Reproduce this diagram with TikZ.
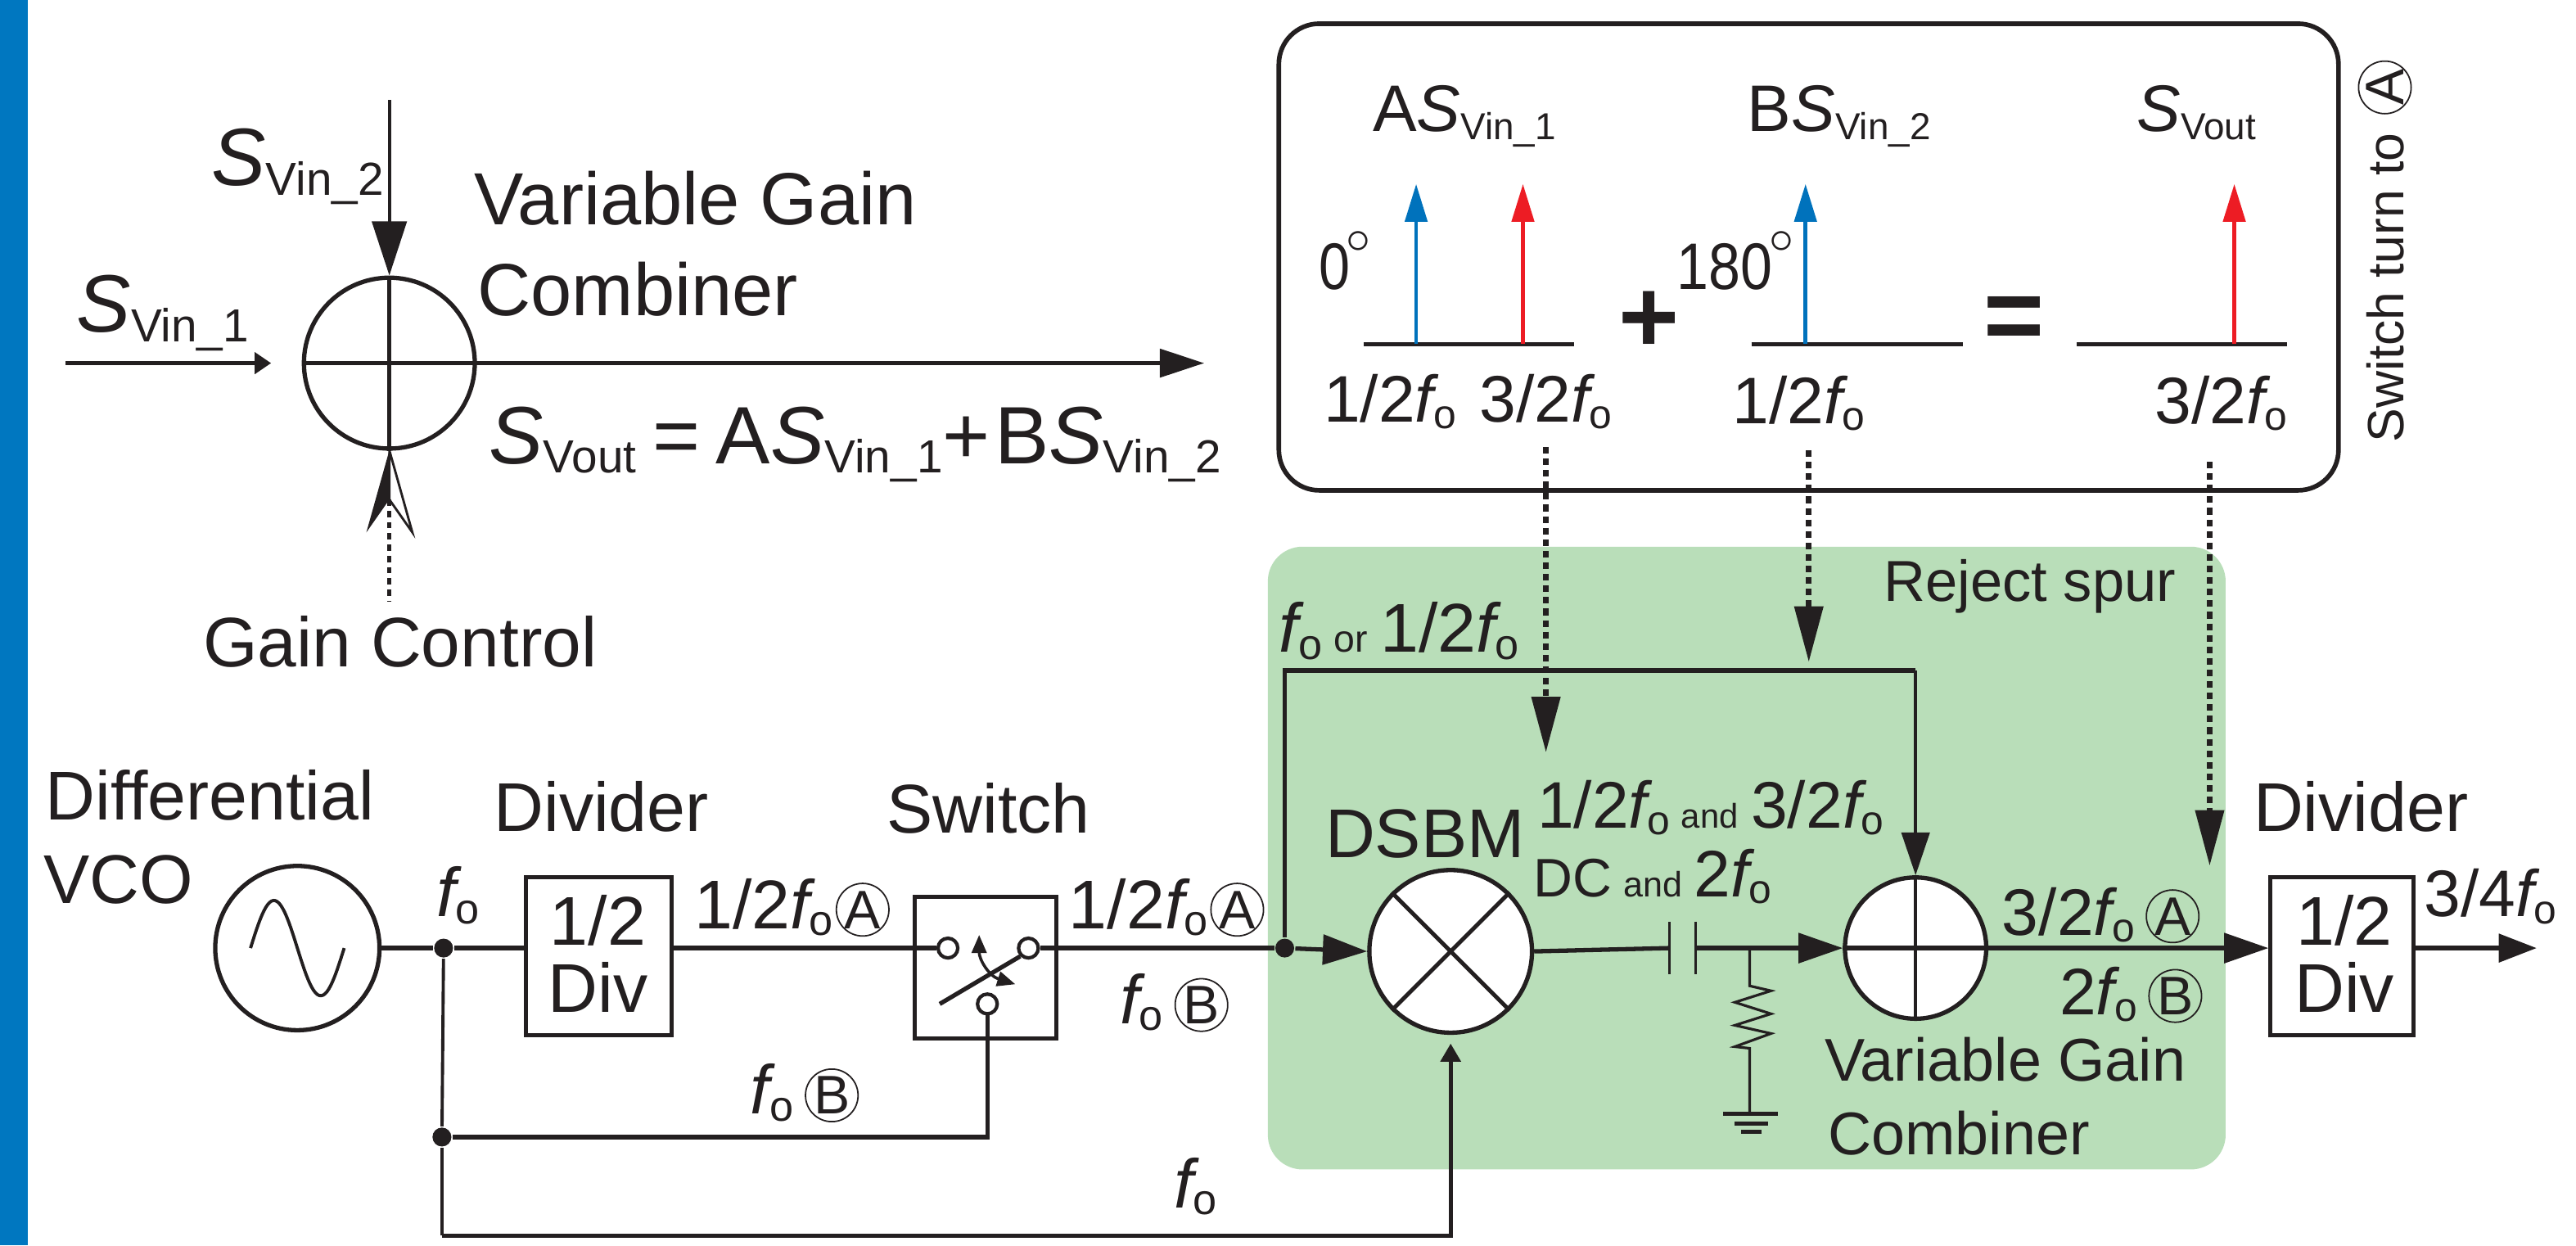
\documentclass[tikz,border=0pt]{standalone}
\usepackage{fontspec}
\usepackage{graphicx}
\setmainfont{Liberation Sans}
\usetikzlibrary{arrows.meta}
\newcommand{\sbs}[1]{\raisebox{-.12em}{\scalebox{.57}{#1}}}
\newcommand{\Sg}[1]{{\itshape S}\sbs{#1}}
\newcommand{\fo}{{\itshape f}\raisebox{-.1em}{\scalebox{.62}{o}}}
\newcommand{\cch}[1]{\tikz[baseline=(cc.base)]\node[circle,draw,line width=.25pt,inner sep=-1.5pt,minimum size=3.2mm] (cc) {\fontsize{9.4}{10}\selectfont #1};}
\newcommand{\dg}{\kern-.6pt\raisebox{2.4pt}{$^{\circ}$}}
\definecolor{barblue}{RGB}{0,119,192}
\definecolor{spurgreen}{RGB}{185,222,185}
\definecolor{toneblue}{RGB}{0,114,188}
\definecolor{tonered}{RGB}{237,28,36}
\definecolor{ink}{RGB}{35,31,32}

\begin{document}
\begin{tikzpicture}[
      ink, draw=ink,
      lbl/.style={font=\fontsize{11.95}{14}\selectfont, anchor=base west, inner sep=0pt, text=ink},
      lblbig/.style={lbl, font=\fontsize{14.1}{16}\selectfont},
      lblwide/.style={lbl, font=\fontsize{12.8}{15}\selectfont},
      lblbox/.style={lbl, font=\fontsize{11.4}{14}\selectfont},
      lblsmall/.style={lbl, font=\fontsize{10}{12}\selectfont},
      lblvg/.style={lbl, font=\fontsize{10.45}{12}\selectfont},
      sym/.style={font=\fontsize{18}{20}\selectfont\bfseries, inner sep=0pt, text=ink},
      blk/.style={draw=ink, line width=.7pt, fill=white, minimum width=#1, inner sep=0pt},
      circ/.style={circle, draw=ink, line width=.75pt, fill=white, inner sep=0pt, minimum size=#1},
      term/.style={circle, draw=ink, line width=.6pt, fill=white, inner sep=0pt, minimum size=1.2mm},
      dot/.style={circle, fill=ink, inner sep=0pt, minimum size=1.15mm},
      wire/.style={line width=.75pt, draw=ink},
      thinw/.style={line width=.45pt, draw=ink},
      sig/.style={wire, -{Stealth[inset=0pt,length=2.7mm,width=1.8mm]}},
      dsh/.style={line width=1pt, draw=ink, dash pattern=on 1.15pt off .85pt, -{Stealth[inset=0pt,length=3.4mm,width=1.7mm]}},
      tone/.style={line width=.65pt, -{Stealth[inset=0pt,length=2.3mm,width=1.35mm]}},
      axisl/.style={line width=.8pt, draw=ink}
    ]
    \useasboundingbox (0,0) rectangle (15.68,-7.58);
    \fill[barblue] (0,0) rectangle (0.17,-7.58);

    % green area and result panel
    \node[draw=none, fill=spurgreen, rounded corners=6pt, anchor=north west, minimum width=5.83cm, minimum height=3.79cm, inner sep=0pt] (spur) at (7.71,-3.32) {};
    \node[draw=ink, line width=.8pt, fill=white, rounded corners=7pt, anchor=north west, minimum width=6.45cm, minimum height=2.84cm, inner sep=0pt] (panel) at (7.77,-0.13) {};

    % upper left combiner
    \node[circ=10.4mm] (combT) at (2.37,-2.21) {};
    \draw[wire] (combT.west) -- (combT.east);
    \draw[wire] (combT.north) -- (combT.south);
    \coordinate (in1) at (0.40,-2.21);
    \coordinate (in1e) at (1.65,-2.21);
    \coordinate (in2) at (2.37,-0.61);
    \coordinate (outT) at (7.33,-2.21);
    \draw[wire, line width=.6pt, -{Stealth[inset=0pt,length=1mm,width=1.3mm]}] (in1) -- (in1e);
    \draw[sig, thinw, line width=.6pt, -{Stealth[inset=0pt,length=3.3mm,width=2.1mm]}] (in2) -- (combT.north);
    \draw[sig, -{Stealth[inset=0pt,length=2.7mm,width=1.7mm]}] (combT.east) -- (outT);
    \coordinate (gcTip) at (2.37,-2.74);
    \coordinate (gcL) at (2.23,-3.24);
    \coordinate (gcR) at (2.51,-3.24);
    \coordinate (gcN) at (2.37,-3.04);
    \coordinate (gcS) at (2.37,-3.66);
    \filldraw[draw=ink, line width=.4pt, fill=white] (gcTip) -- (gcR) -- (gcN) -- cycle;
    \fill[ink] (gcTip) -- (gcL) -- (gcN) -- cycle;
    \draw[line width=.75pt, dash pattern=on 1.1pt off .85pt] (gcN) -- (gcS);
    \node[lblbig] (sv2) at (1.28,-1.13) {\Sg{Vin\_2}};
    \node[lblbig] (sv1) at (0.46,-2.02) {\Sg{Vin\_1}};
    \node[lblwide] (vg1) at (2.88,-1.37) {Variable Gain};
    \node[lblwide] (cb1) at (2.90,-1.92) {Combiner};
    \node[lblbig] (eq1) at (2.97,-2.82) {\Sg{Vout}\kern2.8pt=\kern2.8pt A\Sg{Vin\_1}+\kern.8pt B\Sg{Vin\_2}};
    \node[lbl, font=\fontsize{12.15}{14}\selectfont] (gc) at (1.23,-4.06) {Gain Control};

    % spectra
    \node[lblbox] (sa) at (8.35,-0.80) {A\Sg{Vin\_1}};
    \node[lblbox] (sb) at (10.63,-0.80) {B\Sg{Vin\_2}};
    \node[lblbox] (so) at (13.00,-0.80) {\Sg{Vout}};
    \node[lblbox] (ph0) at (8.02,-1.76) {\scalebox{.85}[1]{0}\dg};
    \node[lblbox] (ph1) at (10.20,-1.76) {\scalebox{.87}[1]{180}\dg};
    \foreach \n/\xa/\xb in {a/8.30/9.58, b/10.66/11.95, c/12.64/13.92} {
      \coordinate (ax\n l) at (\xa,-2.095);
      \coordinate (ax\n r) at (\xb,-2.095);
      \draw[axisl] (ax\n l) -- (ax\n r);
    }
    \draw[tone, draw=toneblue, fill=toneblue] (8.62,-2.09) -- (8.62,-1.12);
    \draw[tone, draw=tonered, fill=tonered] (9.27,-2.09) -- (9.27,-1.12);
    \draw[tone, draw=toneblue, fill=toneblue] (10.99,-2.09) -- (10.99,-1.12);
    \draw[tone, draw=tonered, fill=tonered] (13.60,-2.09) -- (13.60,-1.12);
    \node[sym] (plus) at (10.04,-1.96) {+};
    \node[sym] (eql) at (12.26,-1.97) {=};
    \node[lblbox] (t1) at (8.05,-2.57) {1/2\fo};
    \node[lblbox] (t2) at (9.00,-2.57) {3/2\fo};
    \node[lblbox] (t3) at (10.54,-2.58) {1/2\fo};
    \node[lblbox] (t4) at (13.11,-2.58) {3/2\fo};
    \node[rotate=90, anchor=base west, inner sep=0pt, font=\fontsize{8.85}{10}\selectfont, text=ink] (swt) at (14.63,-2.70) {Switch turn to\kern3.2pt\cch{A}};

    % dotted links from the panel
    \coordinate (d1s) at (9.41,-2.72);
    \coordinate (d1e) at (9.41,-4.58);
    \coordinate (d2s) at (11.01,-2.74);
    \coordinate (d2e) at (11.01,-4.03);
    \coordinate (d3s) at (13.45,-2.81);
    \coordinate (d3e) at (13.45,-5.27);
    \draw[dsh] (d1s) -- (d1e);
    \draw[dsh] (d2s) -- (d2e);
    \draw[dsh] (d3s) -- (d3e);

    % main chain
    \node[circ=10mm] (vco) at (1.81,-5.77) {};
    \draw[line width=.55pt, domain=0:360, samples=50] plot ({1.525+\x/360*.57},{-5.77+.29*sin(\x)});
    \node[blk=8.9mm, minimum height=9.6mm] (divA) at (3.645,-5.82) {};
    \node[blk=8.6mm, minimum height=8.6mm] (sw) at (6.00,-5.89) {};
    \node[circ=9.9mm] (dsbm) at (8.83,-5.79) {};
    \draw[line width=.7pt] (dsbm.45) -- (dsbm.225);
    \draw[line width=.7pt] (dsbm.135) -- (dsbm.315);
    \node[circ=8.6mm] (combB) at (11.66,-5.77) {};
    \draw[wire] (combB.west) -- (combB.east);
    \draw[thinw, line width=.6pt] (combB.north) -- (combB.south);
    \node[blk=8.7mm, minimum height=9.6mm] (divB) at (14.255,-5.82) {};

    \node[term] (swa) at (5.77,-5.77) {};
    \node[term] (swb) at (6.26,-5.77) {};
    \node[term] (swc) at (6.01,-6.11) {};
    \coordinate (blade) at (5.72,-6.11);
    \draw[line width=.75pt] (blade) -- (swb.225);
    \coordinate (swu) at (5.96,-5.69);
    \coordinate (swd) at (6.18,-5.99);
    \draw[line width=.5pt, {Stealth[inset=0pt,length=1.1mm,width=.9mm]}-{Stealth[inset=0pt,length=1.1mm,width=.9mm]}] (swu) .. controls (5.96,-5.84) and (6.02,-5.94) .. (swd);

    \node[dot] (j1) at (2.70,-5.77) {};
    \node[dot] (j2) at (2.69,-6.92) {};
    \node[dot] (j3) at (7.82,-5.77) {};

    \draw[wire] (vco.east) -- (j1);
    \draw[wire] (j1) -- (divA.west|-j1);
    \draw[wire] (divA.east|-j1) -- (swa);
    \draw[wire] (swb) -- (j3);
    \draw[sig] (j3) -- (dsbm.west);
    \draw[thinw, line width=.55pt] (j1) -- (j2);
    \draw[wire] (j2) -| (swc);
    \coordinate (btmL) at (2.69,-7.52);
    \draw[thinw, line width=.55pt] (j2) -- (btmL);
    \draw[wire, -{Stealth[inset=0pt,length=1.1mm,width=1.2mm]}] (btmL) -| ([yshift=-1.5pt]dsbm.south);
    \coordinate (tapT) at (7.82,-4.08);
    \draw[wire] (j3) -- (tapT) -- (11.66,-4.08);
    \draw[sig, thinw, line width=.55pt, -{Stealth[inset=0pt,length=2.6mm,width=1.7mm]}] (11.66,-4.08) -- (combB.north);

    % blocking cap, shunt resistor, ground
    \coordinate (capL) at (10.16,-5.77);
    \coordinate (capR) at (10.32,-5.77);
    \coordinate (rtop) at (10.65,-5.77);
    \draw[wire] (dsbm.east) -- (capL);
    \draw[thinw] (capL) ++(0,.16) -- ++(0,-.32);
    \draw[thinw] (capR) ++(0,.16) -- ++(0,-.32);
    \draw[sig] (capR) -- (combB.west);
    \draw[thinw] (rtop) -- (10.65,-6.00) -- (10.78,-6.03) -- (10.56,-6.10) -- (10.78,-6.17) -- (10.56,-6.24) -- (10.78,-6.29) -- (10.56,-6.37) -- (10.65,-6.38) -- (10.65,-6.78);
    \draw[line width=.7pt] (10.49,-6.78) -- (10.82,-6.78);
    \draw[line width=.7pt] (10.56,-6.84) -- (10.76,-6.84);
    \draw[line width=.7pt] (10.60,-6.89) -- (10.72,-6.89);

    \draw[sig] (combB.east) -- (divB.west|-combB);
    \coordinate (out) at (15.44,-5.77);
    \draw[sig, -{Stealth[inset=0pt,length=2.3mm,width=1.7mm]}] (divB.east|-combB) -- (out);

    % chain labels
    \node[lbl] (l1) at (0.27,-4.99) {Differential};
    \node[lbl] (l2) at (0.26,-5.50) {VCO};
    \node[lbl] (l3) at (3.00,-5.06) {Divider};
    \node[lbl] (l4) at (5.39,-5.07) {Switch};
    \node[lbl] (l5) at (2.65,-5.58) {\fo};
    \node[lbl, anchor=base] (l6) at (3.64,-5.75) {1/2};
    \node[lbl, anchor=base] (l7) at (3.64,-6.16) {Div};
    \node[lbl] (l8) at (4.22,-5.65) {1/2\fo\kern.4pt\cch{A}};
    \node[lbl] (l9) at (4.56,-6.78) {\fo\,\cch{B}};
    \node[lbl] (l10) at (6.50,-5.65) {1/2\fo\kern.4pt\cch{A}};
    \node[lbl] (l11) at (6.81,-6.23) {\fo\,\cch{B}};
    \node[lbl] (l12) at (7.14,-7.35) {\fo};
    \node[lbl] (l13) at (8.06,-5.22) {DSBM};
    \node[lbl] (l14) at (7.78,-3.97) {\fo\kern2pt\scalebox{.55}{or}\kern2.2pt 1/2\fo};
    \node[lblsmall] (l15) at (11.46,-3.66) {Reject spur};
    \node[lblbox] (l16) at (9.35,-5.04) {1/2\fo\kern2pt\scalebox{.52}{and}\kern2.2pt 3/2\fo};
    \node[lblbox] (l17) at (9.33,-5.46) {\fontsize{9.4}{11}\selectfont DC\kern2pt\scalebox{.65}{and}\kern2pt\fontsize{11.4}{14}\selectfont 2\fo};
    \node[lblbox] (l18) at (12.18,-5.69) {3/2\fo\,\cch{A}};
    \node[lblbox] (l19) at (12.53,-6.175) {2\fo\,\cch{B}};
    \node[lblvg] (l20) at (11.10,-6.58) {Variable Gain};
    \node[lblvg] (l21) at (11.12,-7.03) {Combiner};
    \node[lbl] (l22) at (13.71,-5.06) {Divider};
    \node[lbl, anchor=base] (l23) at (14.27,-5.75) {1/2};
    \node[lbl, anchor=base] (l24) at (14.27,-6.16) {Div};
    \node[lblbox] (l25) at (14.75,-5.58) {3/4\fo};
  \end{tikzpicture}
\end{document}
